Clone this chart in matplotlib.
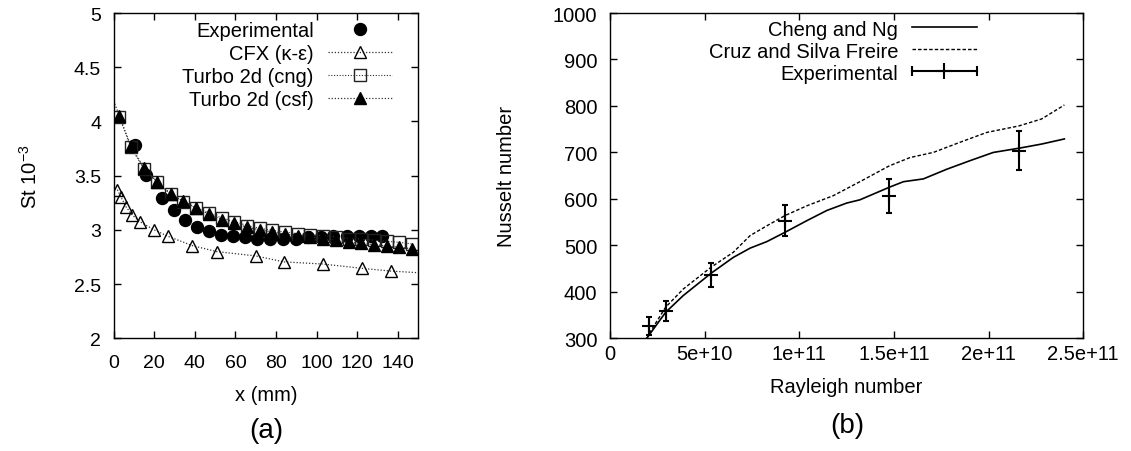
import numpy as np
import matplotlib
matplotlib.use("Agg")
import matplotlib.pyplot as plt
from matplotlib.lines import Line2D
from matplotlib.legend_handler import HandlerLine2D

plt.rcParams['font.family'] = ['Liberation Sans', 'DejaVu Sans']
plt.rcParams['mathtext.fontset'] = 'custom'
plt.rcParams['mathtext.rm'] = 'Liberation Sans'

# (a) Stanton number along x
exp_x = [10.5, 16, 24, 29.5, 35.3, 41.3, 47, 53, 59, 64.8, 70.8, 77, 83.5, 90,
         96, 102, 108, 115, 121, 127, 132.5]
exp_st = [3.78, 3.51, 3.29, 3.185, 3.09, 3.03, 2.985, 2.955, 2.945, 2.93, 2.915,
          2.915, 2.915, 2.92, 2.93, 2.93, 2.94, 2.94, 2.945, 2.945, 2.945]

cfx_x = [1.8, 3.7, 6, 9.2, 13, 19.9, 26.9, 38.7, 50.7, 69.9, 83.9, 103, 122.5, 136.6, 150]
cfx_st = [3.37, 3.30, 3.215, 3.135, 3.075, 3.0, 2.94, 2.855, 2.80, 2.76, 2.705,
          2.685, 2.645, 2.62, 2.605]

turbo_x = [2.8, 8.5, 15, 21.5, 28, 34.3, 40.8, 47, 53.3, 59.5, 65.8, 72, 78.2,
           84.5, 90.8, 97, 103.3, 109.5, 115.8, 122, 128.3, 134.5, 140.8, 147]
cng_st = [4.04, 3.76, 3.56, 3.44, 3.335, 3.26, 3.2, 3.155, 3.11, 3.075, 3.04,
          3.015, 2.995, 2.98, 2.965, 2.955, 2.945, 2.935, 2.92, 2.915, 2.905,
          2.895, 2.885, 2.87]
csf_x = [0] + turbo_x
csf_st = [4.19, 4.05, 3.77, 3.57, 3.44, 3.33, 3.265, 3.2, 3.145, 3.095, 3.06,
          3.025, 3.0, 2.98, 2.96, 2.945, 2.935, 2.92, 2.905, 2.885, 2.875, 2.865,
          2.85, 2.84, 2.825]

st_ticks = [2, 2.5, 3, 3.5, 4, 4.5, 5]
st_labels = ['2', '2.5', '3', '3.5', '4', '4.5', '5']
x_ticks = [0, 20, 40, 60, 80, 100, 120, 140]

# (b) Nusselt vs Rayleigh
cheng_ra = [1.94e10, 2.94e10, 3.87e10, 5.34e10, 6.51e10, 7.4e10, 8.28e10, 9.24e10,
            1.039e11, 1.145e11, 1.25e11, 1.32e11, 1.475e11, 1.55e11, 1.655e11,
            1.78e11, 1.90e11, 2.025e11, 2.16e11, 2.28e11, 2.40e11]
cheng_nu = [300, 356, 392, 440, 474, 494, 508, 528, 553, 575, 591, 598, 625, 637,
            643, 664, 682, 700, 709, 718, 729]

cruz_ra = [1.95e10, 2.11e10, 2.94e10, 3.87e10, 5.34e10, 6.51e10, 7.4e10, 8.28e10,
           9.24e10, 1.039e11, 1.18e11, 1.32e11, 1.475e11, 1.585e11, 1.708e11,
           1.85e11, 1.99e11, 2.16e11, 2.28e11, 2.40e11]
cruz_nu = [300, 313, 367, 406, 453, 485, 521, 542, 564, 585, 607, 637, 671, 689,
           700, 722, 743, 757, 772, 802]

meas_ra = [2.08e10, 2.94e10, 5.34e10, 9.24e10, 1.475e11, 2.16e11]
meas_nu = [327, 359, 436, 553, 606, 704]
meas_err = [19, 21, 25, 33, 36, 42]

ra_ticks = [0, 5e10, 1e11, 1.5e11, 2e11, 2.5e11]
ra_labels = ['0', '5e+10', '1e+11', '1.5e+11', '2e+11', '2.5e+11']
nu_ticks = [300, 400, 500, 600, 700, 800, 900, 1000]

W, H = 1131, 452
fig = plt.figure(figsize=(W / 100, H / 100), dpi=100)


def box(l, t, r, b):
    return [l / W, 1 - b / H, (r - l) / W, (b - t) / H]


ax1 = fig.add_axes(box(113.7, 14, 418, 339.3))
ax2 = fig.add_axes(box(610, 14, 1083.3, 339.3))

dot = (0, (1, 1.5))
ax1.plot(exp_x, exp_st, 'o', color='k', ms=8.6, label='Experimental')
ax1.plot(cfx_x, cfx_st, color='#333333', ls=dot, lw=0.9, marker='^', ms=8.5,
         mfc='none', mec='k', mew=1, markevery=list(range(len(cfx_x) - 1)),
         label='CFX (κ-ε)')
ax1.plot(turbo_x, cng_st, color='#333333', ls=dot, lw=0.8, marker='s', ms=9,
         mfc='none', mec='#222222', mew=1, label='Turbo 2d (cng)')
ax1.plot(csf_x, csf_st, color='#333333', ls=dot, lw=0.9, marker='^', ms=8.5,
         mfc='k', mec='k', markevery=list(range(1, len(csf_x))),
         label='Turbo 2d (csf)')

ax1.set_xlim(0, 150)
ax1.set_ylim(2, 5)
ax1.set_xticks(x_ticks)
ax1.set_yticks(st_ticks)
ax1.set_yticklabels(st_labels)
ax1.tick_params(direction='in', top=True, right=True, length=5, width=1,
                labelsize=14)
ax1.tick_params(axis='x', pad=11)
ax1.tick_params(axis='y', pad=9)
ax1.set_xlabel('x (mm)', fontsize=14.5)
ax1.set_ylabel('St 10$^{\\mathregular{-3}}$', fontsize=14.5)
ax1.xaxis.set_label_coords(0.5, -0.145)
ax1.yaxis.set_label_coords(-0.24, 0.5)
ax1.legend(loc='upper right', bbox_to_anchor=((392 - 113.7) / 304.3, 0.975),
           frameon=False, markerfirst=False, fontsize=14.5, handlelength=3.2,
           handletextpad=0.68, labelspacing=0.2, borderpad=0,
           borderaxespad=0, numpoints=1)

ax2.plot(cheng_ra, cheng_nu, color='k', lw=1.2)
ax2.plot(cruz_ra, cruz_nu, color='k', lw=1.0, ls=(0, (2.5, 1.5)))
ax2.errorbar(meas_ra, meas_nu, yerr=meas_err, fmt='+', color='k', ms=10, mew=1.5,
             elinewidth=1.5, capsize=2.5, capthick=1.5)
ax2.set_xlim(0, 2.5e11)
ax2.set_ylim(300, 1000)
ax2.set_xticks(ra_ticks)
ax2.set_xticklabels(ra_labels)
ax2.set_yticks(nu_ticks)
ax2.tick_params(direction='in', top=True, right=True, length=5, width=1,
                labelsize=14.5)
ax2.tick_params(axis='x', pad=4)
ax2.tick_params(axis='y', pad=9)
ax2.set_xlabel('Rayleigh number', fontsize=14.5)
ax2.set_ylabel('Nusselt number', fontsize=14.5)
ax2.xaxis.set_label_coords(0.5, -0.12)
ax2.yaxis.set_label_coords(-0.198, 0.5)

h_cheng = Line2D([], [], color='k', lw=1.2)
h_cruz = Line2D([], [], color='k', lw=1.0, ls=(0, (2.5, 1.5)))
h_bar = Line2D([], [], color='k', lw=1.5, marker='|', ms=7, mew=1.5)
h_plus = Line2D([], [], color='k', ls='none', marker='+', ms=12, mew=1.5)
ax2.legend([h_cheng, h_cruz, (h_bar, h_plus)],
           ['Cheng and Ng', 'Cruz and Silva Freire', 'Experimental'],
           handler_map={h_bar: HandlerLine2D(numpoints=2, marker_pad=0)},
           loc='upper right', bbox_to_anchor=((976.7 - 610) / 473.3, 0.98),
           frameon=False, markerfirst=False, fontsize=14.5, handlelength=3.2,
           handletextpad=0.7, labelspacing=0.15, borderpad=0, borderaxespad=0)

for ax in (ax1, ax2):
    for s in ax.spines.values():
        s.set_linewidth(1)

fig.text(266 / W, 1 - 431 / H, '(a)', fontsize=20, ha='center', va='center')
fig.text(847 / W, 1 - 426 / H, '(b)', fontsize=20, ha='center', va='center')

fig.savefig('out.png', dpi=100)
